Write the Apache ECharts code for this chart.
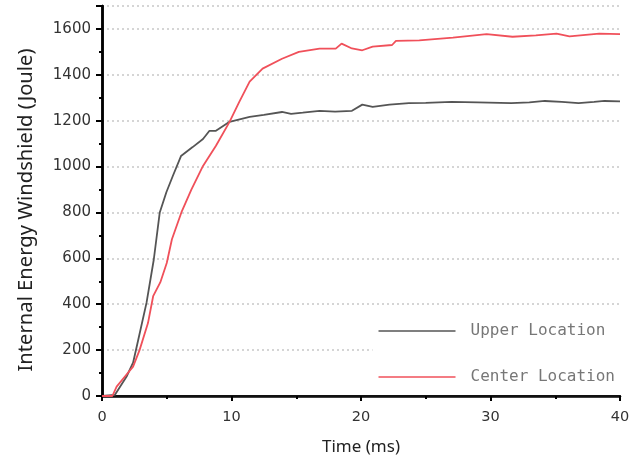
<!DOCTYPE html>
<html><head><meta charset="utf-8">
<script src="https://cdn.jsdelivr.net/npm/echarts@6/dist/echarts.min.js"></script>
<style>html,body{margin:0;padding:0;background:#fff}#c{width:641px;height:464px}</style>
</head><body><div id="c"></div>
<script>
const upperTime = [0,1,1.9,2.4,2.8,3.44,4.0,4.46,4.97,5.46,6.1,7.0,7.8,8.3,8.8,9.85,11.4,12.5,13.9,14.6,15.5,16.8,18,19.3,20.1,20.9,22.2,23.7,25,27,29,31.6,33,34.2,35.5,36.8,38,38.8,40];
const upperValues = [0,5,85,145,245,407,595,800,888,958,1046,1085,1120,1156,1156,1195,1217,1225,1238,1230,1235,1243,1240,1243,1270,1260,1270,1277,1278,1282,1280,1277,1280,1286,1282,1277,1282,1286,1284];
const centerTime = [0,0.8,1.13,1.77,2.4,2.9,3.55,3.95,4.5,5.0,5.4,6.13,6.9,7.8,8.8,9.85,10.6,11.4,12.4,13.9,15.2,16.8,18.05,18.5,19.3,20.1,20.9,22.4,22.7,24.5,27.1,29.7,31.7,33.5,35.1,36.1,38.4,40];
const centerValues = [0,0,41,85,128,200,318,435,495,580,683,800,900,1003,1091,1195,1282,1370,1427,1470,1500,1514,1514,1536,1515,1507,1523,1530,1548,1550,1562,1577,1566,1572,1580,1568,1580,1577];
const seriesNames = ['Upper Location','Center Location'];
const xName = 'Time (ms)';
const yName = 'Internal Energy Windshield (Joule)';

const zip = (a,b) => a.map((t,i)=>[t,b[i]]);
const chart = echarts.init(document.getElementById('c'), null, {renderer:'canvas'});
const tickFont = 'DejaVu Sans, sans-serif';
const nameFont = 'Noto Sans, Open Sans, sans-serif';
chart.setOption({
  animation:false,
  backgroundColor:'#fff',
  grid:{left:102,right:21,top:6,bottom:68},
  legend:{
    data:seriesNames, orient:'vertical', right:22, top:317,
    icon:'rect', itemWidth:77, itemHeight:1.5, itemGap:30,
    backgroundColor:'#fff', padding:[6,4,6,6], z:10,
    textStyle:{fontFamily:'DejaVu Sans Mono, monospace', fontSize:16, color:'#777', padding:[0,0,0,10]}
  },
  xAxis:[{
    type:'value', min:0, max:40, interval:10,
    name:xName, nameLocation:'middle', nameGap:43,
    nameTextStyle:{fontFamily:nameFont, fontSize:17, color:'#222'},
    axisLine:{show:true,lineStyle:{color:'#000',width:2.5}},
    axisTick:{show:true,inside:false,length:5,lineStyle:{color:'#000',width:2}},
    minorTick:{show:true,splitNumber:2,length:3,lineStyle:{color:'#000',width:2}},
    axisLabel:{fontFamily:tickFont,fontSize:14.5,color:'#333',margin:14},
    splitLine:{show:false}
  },{
    type:'value', min:0, max:40, position:'top',
    axisLine:{show:true,lineStyle:{color:'#111',width:2}},
    axisTick:{show:false}, axisLabel:{show:false}, splitLine:{show:false}
  }],
  yAxis:[{
    type:'value', min:0, max:1700, interval:200,
    name:yName, nameLocation:'middle', nameGap:66, nameRotate:90,
    nameTextStyle:{fontFamily:nameFont, fontSize:20.2, color:'#222', padding:[0,18,0,0]},
    axisLine:{show:true,lineStyle:{color:'#000',width:2.5}},
    axisTick:{show:true,inside:false,length:6,lineStyle:{color:'#000',width:2}},
    minorTick:{show:true,splitNumber:2,length:3,lineStyle:{color:'#000',width:2}},
    axisLabel:{fontFamily:tickFont,fontSize:15,color:'#333',margin:11,
      formatter:v=> v>1600 ? '' : String(v)},
    splitLine:{show:true,lineStyle:{color:'#c8c8c8',type:[2,3],width:1.5}}
  },{
    type:'value', min:0, max:1700, position:'right',
    axisLine:{show:true,lineStyle:{color:'#000',width:2.5}},
    axisTick:{show:false}, axisLabel:{show:false}, splitLine:{show:false}
  }],
  series:[{
    name:seriesNames[0], type:'line', showSymbol:false, symbol:'none',
    data:zip(upperTime,upperValues),
    lineStyle:{color:'#555',width:1.8}, itemStyle:{color:'#555'}
  },{
    name:seriesNames[1], type:'line', showSymbol:false, symbol:'none',
    data:zip(centerTime,centerValues),
    lineStyle:{color:'#f0505a',width:1.8}, itemStyle:{color:'#f0505a'}
  }]
});
</script></body></html>
